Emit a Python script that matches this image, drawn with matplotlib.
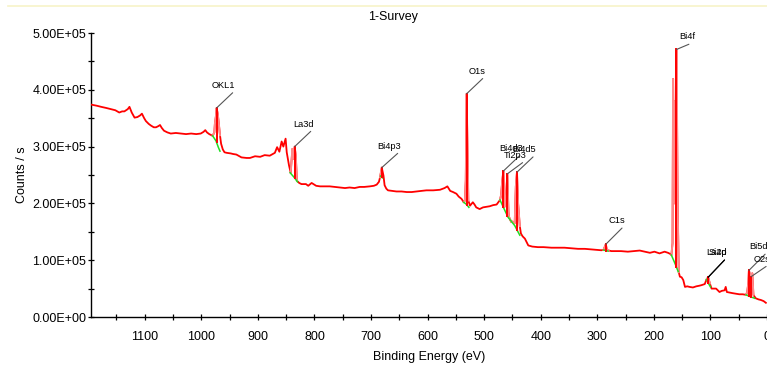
import numpy as np
import matplotlib
matplotlib.use("Agg")
import matplotlib.pyplot as plt
from matplotlib.ticker import MultipleLocator, FuncFormatter

plt.rcParams["font.family"] = ["Liberation Sans", "DejaVu Sans"]

# Survey spectrum: binding energy (eV) and counts per second (thousands)
energy = [1195, 1185, 1177, 1168, 1160, 1152, 1145, 1140, 1136, 1130, 1127, 1123, 1118, 1113,
          1108, 1105, 1101, 1098, 1093, 1089, 1084, 1080, 1076, 1073, 1070, 1066, 1060, 1054,
          1045, 1036, 1027, 1018, 1009, 1001, 996, 993, 990, 986, 982, 980, 977, 976, 974, 973,
          971, 969, 967, 965, 962, 959, 955, 948, 944, 938, 929, 920, 914, 905, 896, 888, 879,
          870, 866, 862, 858, 855, 851, 849, 845, 842, 839, 837, 835, 833, 831, 827, 823, 815,
          811, 805, 797, 790, 782, 773, 764, 755, 746, 738, 729, 720, 712, 702, 695, 690, 686,
          684, 681, 678, 676, 673, 670, 663, 655, 646, 637, 628, 620, 611, 602, 590, 578, 570,
          565, 560, 555, 549, 545, 540, 536, 534, 532.5, 531, 529, 528, 525, 520, 517, 514, 508,
          502, 496, 490, 484, 478, 475, 472, 470, 468, 466, 464, 462, 459, 457, 456, 452, 450,
          446, 444, 442, 440, 437, 435, 432, 428, 425, 422, 415, 405, 395, 381, 370, 358, 346,
          334, 322, 311, 302, 293, 289, 285, 283, 280, 275, 269, 258, 246, 235, 225, 216, 207,
          199, 190, 181, 175, 171, 169, 167, 166, 165, 164, 163, 161, 160, 159, 158, 157, 156,
          154, 151, 148, 145, 141, 137, 131, 125, 120, 116, 110, 107, 104, 101, 98, 94, 90, 84,
          80, 75, 73, 71, 66, 61, 55, 49, 43, 37, 35, 33, 32, 30, 28, 26, 24, 20, 15, 11, 6, 2]
counts_k = [374, 372, 370, 368, 366, 364, 360, 362, 362, 366, 370, 360, 351, 352,
            355, 358, 350, 345, 340, 337, 334, 334, 336, 338, 333, 328, 325, 323,
            324, 323, 322, 323, 322, 323, 326, 329, 325, 322, 320, 319, 325, 340, 355, 368,
            358, 340, 320, 305, 295, 290, 289, 288, 287, 286, 281, 280, 280, 283, 282, 285, 284,
            289, 299, 291, 309, 300, 314, 290, 267, 254, 296, 278, 300, 284, 240, 236, 234, 234,
            231, 236, 231, 230, 230, 230, 229, 228, 227, 228, 227, 229, 229, 230, 231, 233, 238,
            246, 263, 249, 232, 226, 223, 222, 221, 221, 220, 220, 221, 222, 223, 223, 224, 227,
            230, 222, 220, 217, 212, 208, 202, 205, 240, 393, 275, 205, 196, 202, 198, 193, 190,
            193, 194, 195, 197, 198, 202, 206, 215, 240, 257, 194, 200, 252, 185, 176, 167, 168,
            165, 230, 255, 200, 160, 147, 142, 138, 132, 126, 124, 123, 123, 122, 122, 122, 121,
            120, 120, 119, 118, 117.5, 118, 128, 118, 117, 116, 116, 116, 115, 116, 117, 115, 113,
            115, 112, 115, 113, 111, 109, 130, 419, 300, 380, 200, 300, 471, 350, 200, 141, 79,
            71, 70, 65, 53, 54, 53, 52, 54, 55, 56, 58, 66, 70, 59, 50, 50, 50, 44,
            46, 47, 53, 44, 43, 42, 41, 40, 40, 39, 44, 60, 82, 75, 71, 77, 39, 33, 31, 30, 28, 25]

# Background (baseline) segments under the fitted regions
baseline_energy = [
    [980, 974, 970, 967],
    [843, 836, 830],
    [683, 680],
    [536, 531, 527],
    [472, 458, 446, 437],
    [289, 285, 281],
    [169, 163, 157],
    [107, 104, 100],
    [37, 30, 22],
]
baseline_counts_k = [
    [319, 310, 299, 292],
    [254, 246, 238],
    [248, 245],
    [202, 198, 193],
    [206, 176, 161, 144],
    [118, 117, 116],
    [109, 95, 80],
    [66, 60, 53],
    [39, 36, 33],
]

# Peak labels with their positions
peak_names = ["OKL1", "La3d", "Bi4p3", "O1s", "Bi4d3", "Ti2p3", "Bi4d5", "C1s",
              "Bi4f", "La4d", "Si2p", "Bi5d", "O2s"]
peak_energy = [973, 835, 681, 531, 466, 459, 442, 285, 160, 104, 104, 32, 28]
peak_counts_k = [368, 300, 263, 393, 257, 252, 255, 128, 471, 70, 70, 82, 71]
label_rise_px = [18, 18, 17, 18, 18, 14, 18, 19, 8, 20, 20, 19, 13]
line_color = ["#555555"] * 9 + ["#000000", "#000000"] + ["#555555", "#555555"]

e = np.array(energy, dtype=float)
c = np.array(counts_k, dtype=float) * 1e3

fig = plt.figure(figsize=(7.67, 3.70), dpi=100)
ax = fig.add_axes([91 / 767, 53 / 370, 676 / 767, 284 / 370])

ax.plot(e, c, color="#ff0000", lw=1.3, zorder=3)

# fitted windows drawn in a lighter red, with the baseline in green
for be, bc in zip(baseline_energy, baseline_counts_k):
    lo, hi = min(be), max(be)
    m = (e >= lo - 1) & (e <= hi + 1)
    ax.plot(e[m], c[m], color="#ff8a8a", lw=1.4, zorder=4)
    ax.plot(be, np.array(bc) * 1e3, color="#22dd22", lw=1.1, zorder=5)

# component lines at labelled peaks
for pe, pc in zip(peak_energy, peak_counts_k):
    base = None
    for be, bc in zip(baseline_energy, baseline_counts_k):
        if min(be) - 2 <= pe <= max(be) + 2:
            base = np.interp(pe, be[::-1], bc[::-1]) * 1e3
    if base is not None:
        ax.plot([pe, pe], [base, pc * 1e3], color="#ff0000", lw=1.4, zorder=6)

for name, pe, pc, rise, lc in zip(peak_names, peak_energy, peak_counts_k,
                                   label_rise_px, line_color):
    ax.annotate(name, xy=(pe, pc * 1e3), xytext=(19, rise), textcoords="offset pixels",
                ha="right", va="bottom", fontsize=6.7, color="black", zorder=7,
                annotation_clip=False,
                arrowprops=dict(arrowstyle="-", color=lc, lw=0.8, relpos=(1.0, 0.0),
                                shrinkA=0, shrinkB=0))

ax.set_xlim(1195, 0)
ax.set_ylim(0, 5e5)
ax.xaxis.set_major_locator(MultipleLocator(100))
ax.xaxis.set_minor_locator(MultipleLocator(50))
ax.yaxis.set_major_locator(MultipleLocator(1e5))
ax.yaxis.set_minor_locator(MultipleLocator(5e4))
ax.xaxis.set_major_formatter(FuncFormatter(lambda v, p: f"{v:.0f}"))
ax.yaxis.set_major_formatter(FuncFormatter(lambda v, p: f"{v:.2E}"))
ax.tick_params(axis="both", which="both", direction="inout", length=4, width=0.9,
               color="black", labelsize=9)
ax.tick_params(axis="x", pad=8)
ax.tick_params(axis="y", pad=1.5)

for s in ("top", "right"):
    ax.spines[s].set_visible(False)
for s in ("left", "bottom"):
    ax.spines[s].set_linewidth(1.0)
    ax.spines[s].set_color("black")

ax.set_xlabel("Binding Energy (eV)", fontsize=9, labelpad=6)
ax.set_ylabel("Counts / s", fontsize=9, labelpad=3)
fig.text(393 / 767, 1 - 17 / 370, "1-Survey", ha="center", va="center", fontsize=9)
fig.add_artist(plt.Line2D([0.01, 1.0], [1 - 6 / 370, 1 - 6 / 370], color="#f7f3c8", lw=1.2))

fig.savefig("out.png", dpi=100, facecolor="white")
